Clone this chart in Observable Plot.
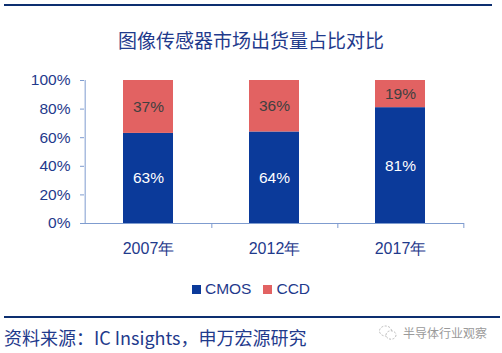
<!DOCTYPE html>
<html><head><meta charset="utf-8">
<script src="https://cdn.jsdelivr.net/npm/d3@7"></script>
<script src="https://cdn.jsdelivr.net/npm/@observablehq/plot@0.6"></script>
<style>
body{margin:0;width:502px;height:353px;background:#fff;position:relative;overflow:hidden;font-family:"Liberation Sans",Arial,sans-serif}
.abs{position:absolute}
#topline{left:4px;top:4px;width:488px;height:2px;background:#0d2f70}
#title{left:0;width:502px;top:28px;text-align:center;font:19px "Noto Sans CJK SC",sans-serif;color:#1f3a8c;line-height:24px}
#chart{left:0;top:60px}
#legend{left:0;width:502px;top:280px;text-align:center;font:15.5px "Liberation Sans",Arial,sans-serif;color:#1f3a8c;line-height:18px}
#legend span.sw{display:inline-block;width:9px;height:9px;margin-right:4px;vertical-align:0px}
#botline{left:4px;top:316px;width:496px;height:2px;background:#0d2f70}
#source{left:4px;top:326px;font:18px "Noto Sans CJK SC",sans-serif;color:#1f3a8c;line-height:22px;white-space:nowrap}
#wm{left:403px;top:325px;font:12px "Noto Sans CJK SC",sans-serif;color:#9a9a9a;line-height:16px;white-space:nowrap}
#icon{left:378px;top:324px}
</style></head>
<body>
<div id="topline" class="abs"></div>
<div id="title" class="abs">图像传感器市场出货量占比对比</div>
<div id="chart" class="abs"></div>
<div id="legend" class="abs"></div>
<div id="botline" class="abs"></div>
<div id="source" class="abs">资料来源：IC Insights，申万宏源研究</div>
<svg id="icon" class="abs" width="20" height="18"><ellipse cx="7.5" cy="7" rx="6" ry="5" fill="none" stroke="#bbb" stroke-width="1" stroke-dasharray="2 1.5"/><ellipse cx="13" cy="11" rx="5" ry="4.2" fill="#fff" stroke="#bbb" stroke-width="1" stroke-dasharray="2 1.5"/></svg>
<div id="wm" class="abs">半导体行业观察</div>
<script>
const years = ["2007年", "2012年", "2017年"];
const seriesNames = ["CMOS", "CCD"];
const cmos = [63, 64, 81];
const ccd = [37, 36, 19];
const yTicks = [0, 20, 40, 60, 80, 100];
const colors = ["#0b3a9a", "#e26262"];
const labelColors = ["#ffffff", "#404040"];

const data = [];
years.forEach((y, i) => {
  data.push({year: y, series: "CMOS", value: cmos[i]});
  data.push({year: y, series: "CCD", value: ccd[i]});
});

const W = 502, H = 200, mL = 84, mR = 38, mT = 20, mB = 37;
const step = (W - mL - mR) / years.length;
const axisColor = "#7f9ccf";
const textColor = "#1f3a8c";

const chart = Plot.plot({
  width: W, height: H,
  marginLeft: mL, marginRight: mR, marginTop: mT, marginBottom: mB,
  style: {fontFamily: "'Liberation Sans', Arial, sans-serif", fontSize: "15px", color: textColor, background: "transparent", overflow: "visible"},
  x: {domain: years, paddingInner: 0.6, paddingOuter: 0.3, label: null},
  y: {domain: [0, 100], label: null},
  color: {domain: seriesNames, range: colors},
  marks: [
    Plot.barY(data, Plot.stackY({x: "year", y: "value", fill: "series", order: seriesNames})),
    Plot.text(data, Plot.stackY({x: "year", y: "value", z: "series", order: seriesNames, text: d => d.value + "%",
      fill: d => labelColors[seriesNames.indexOf(d.series)], fontSize: 15.5})),
    Plot.ruleY([0], {stroke: axisColor, strokeWidth: 1}),
    Plot.ruleX([0], {x: () => years[0], dx: -step / 2, y1: 0, y2: 100, stroke: axisColor, strokeWidth: 1}),
    Plot.ruleX(years, {x: d => d, dx: step / 2, y1: 0, y2: 0, insetBottom: -5, stroke: axisColor, strokeWidth: 1}),
    Plot.axisY({ticks: yTicks, tickFormat: d => d + "%", tickSize: 4, tickPadding: 10, stroke: axisColor, fill: textColor, fontSize: 15.5, label: null}),
    Plot.axisX({tickSize: 0, tickPadding: 19, fill: textColor, fontSize: 16, label: null})
  ]
});
document.getElementById("chart").appendChild(chart);

const leg = document.getElementById("legend");
seriesNames.forEach((s, i) => {
  const sw = document.createElement("span");
  sw.className = "sw"; sw.style.background = colors[i];
  leg.appendChild(sw);
  const t = document.createElement("span");
  t.textContent = s; t.style.marginRight = i === 0 ? "12px" : "0";
  leg.appendChild(t);
});
</script>
</body></html>
